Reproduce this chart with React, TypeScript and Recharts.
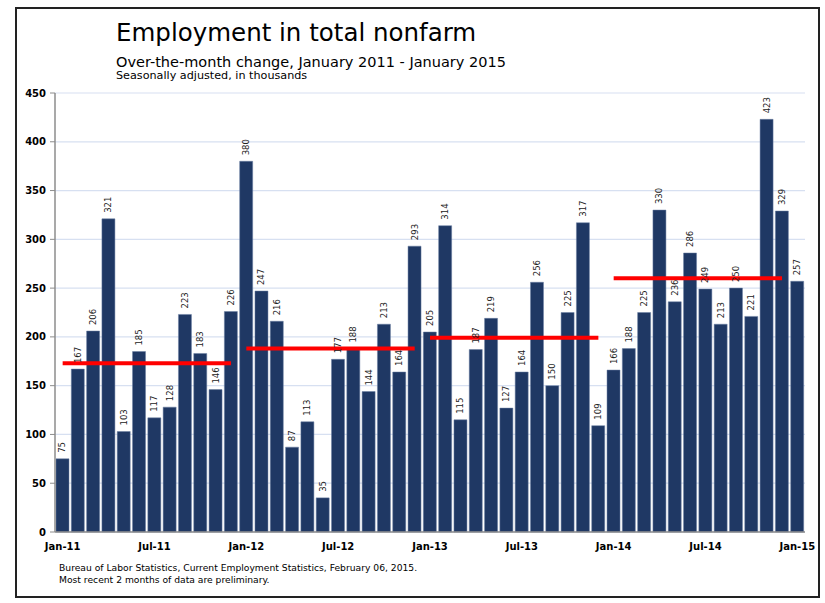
import React from "react";
import {
  ComposedChart, Bar, Line, XAxis, YAxis, CartesianGrid, LabelList
} from "recharts";

// Jan 2011 .. Jan 2015, over-the-month change in thousands
const months = [
  "Jan-11", "Feb-11", "Mar-11", "Apr-11", "May-11", "Jun-11", "Jul-11", "Aug-11", "Sep-11", "Oct-11", "Nov-11", "Dec-11",
  "Jan-12", "Feb-12", "Mar-12", "Apr-12", "May-12", "Jun-12", "Jul-12", "Aug-12", "Sep-12", "Oct-12", "Nov-12", "Dec-12",
  "Jan-13", "Feb-13", "Mar-13", "Apr-13", "May-13", "Jun-13", "Jul-13", "Aug-13", "Sep-13", "Oct-13", "Nov-13", "Dec-13",
  "Jan-14", "Feb-14", "Mar-14", "Apr-14", "May-14", "Jun-14", "Jul-14", "Aug-14", "Sep-14", "Oct-14", "Nov-14", "Dec-14",
  "Jan-15",
];

const changes = [
  75, 167, 206, 321, 103, 185, 117, 128, 223, 183, 146, 226,
  380, 247, 216, 87, 113, 35, 177, 188, 144, 213, 164, 293,
  205, 314, 115, 187, 219, 127, 164, 256, 150, 225, 317, 109,
  166, 188, 225, 330, 236, 286, 249, 213, 250, 221, 423, 329,
  257,
];

// yearly average lines (2011..2014)
const avgKeys = ["avg2011", "avg2012", "avg2013", "avg2014"];
const yearAverages = [173, 188, 199, 260];

const yTicks = [0, 50, 100, 150, 200, 250, 300, 350, 400, 450];

const data = months.map((month, i) => {
  const row: Record<string, any> = { month, change: changes[i] };
  avgKeys.forEach((k, y) => {
    row[k] = Math.floor(i / 12) === y ? yearAverages[y] : null;
  });
  return row;
});

const font = "'DejaVu Sans', Verdana, sans-serif";

const BarValue = (props: any) => {
  const { x, y, width, value } = props;
  const cx = x + width / 2;
  const ty = y - 6;
  return (
    <text
      x={cx}
      y={ty}
      transform={`rotate(-90 ${cx} ${ty})`}
      textAnchor="start"
      dominantBaseline="central"
      fontSize={8.5}
      fontFamily={font}
      fill="#222"
    >
      {value}
    </text>
  );
};

export default function App() {
  return (
    <div style={{ position: "absolute", left: 0, top: 0, width: 825, height: 603, background: "#fff" }}>
      <ComposedChart
        width={825}
        height={603}
        data={data}
        margin={{ top: 93, right: 20, left: 15, bottom: 41 }}
        style={{ fontFamily: font }}
      >
        <CartesianGrid vertical={false} stroke="#d7e0f1" strokeWidth={1.2} />
        <XAxis
          dataKey="month"
          interval={5}
          height={30}
          tickLine={false}
          tickSize={0}
          tickMargin={11}
          axisLine={{ stroke: "#8c8c8c", strokeWidth: 1.5 }}
          tick={{ fontSize: 10, fontWeight: "bold", fill: "#000", fontFamily: font }}
        />
        <YAxis
          domain={[0, 450]}
          ticks={yTicks}
          width={40}
          tickSize={5}
          tickMargin={4}
          axisLine={{ stroke: "#8c8c8c", strokeWidth: 1.5 }}
          tickLine={{ stroke: "#8c8c8c" }}
          tick={{ fontSize: 10, fontWeight: "bold", fill: "#000", fontFamily: font }}
        />
        <Bar dataKey="change" fill="#1f3864" stroke="#6a7ea3" strokeWidth={0.5} barSize={13} isAnimationActive={false}>
          <LabelList dataKey="change" content={<BarValue />} />
        </Bar>
        {avgKeys.map((k) => (
          <Line
            key={k}
            dataKey={k}
            stroke="#ff0000"
            strokeWidth={4}
            dot={false}
            activeDot={false}
            connectNulls={false}
            isAnimationActive={false}
          />
        ))}
      </ComposedChart>
      <svg
        width={825}
        height={603}
        style={{ position: "absolute", left: 0, top: 0, pointerEvents: "none", fontFamily: font }}
      >
        <rect x={16} y={8} width={803} height={589} fill="none" stroke="#222" strokeWidth={2} />
        <text x={116} y={40.5} fontSize={24.5} fill="#000">Employment in total nonfarm</text>
        <text x={116} y={67} fontSize={14.5} fill="#000">Over-the-month change, January 2011 - January 2015</text>
        <text x={116} y={78.5} fontSize={11.2} fill="#000">Seasonally adjusted, in thousands</text>
        <text x={59} y={570.5} fontSize={9.2} fill="#000">
          Bureau of Labor Statistics, Current Employment Statistics, February 06, 2015.
        </text>
        <text x={59} y={582.5} fontSize={9.2} fill="#000">Most recent 2 months of data are preliminary.</text>
      </svg>
    </div>
  );
}
